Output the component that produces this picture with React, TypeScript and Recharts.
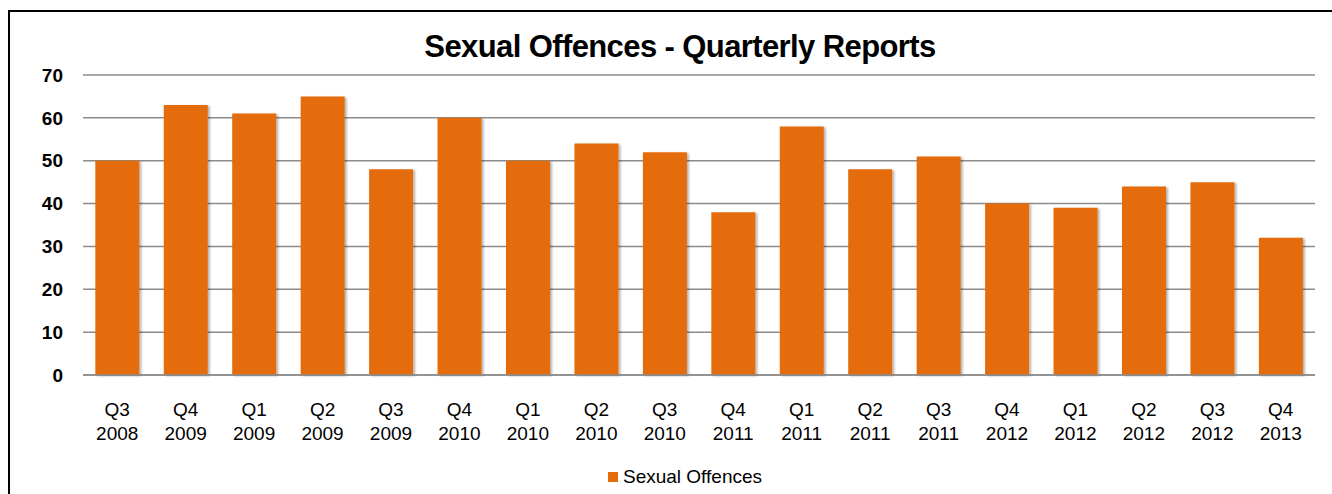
import React from "react";
import { BarChart, Bar, XAxis, YAxis, CartesianGrid } from "recharts";

const quarters = ["Q3", "Q4", "Q1", "Q2", "Q3", "Q4", "Q1", "Q2", "Q3", "Q4", "Q1", "Q2", "Q3", "Q4", "Q1", "Q2", "Q3", "Q4"];
const years = ["2008", "2009", "2009", "2009", "2009", "2010", "2010", "2010", "2010", "2011", "2011", "2011", "2011", "2012", "2012", "2012", "2012", "2013"];
const offences = [50, 63, 61, 65, 48, 60, 50, 54, 52, 38, 58, 48, 51, 40, 39, 44, 45, 32];
const yTicks = [0, 10, 20, 30, 40, 50, 60, 70];

const data = quarters.map((q, i) => ({ name: q + " " + years[i], quarter: q, year: years[i], value: offences[i] }));

const FONT = "'Liberation Sans', Arial, sans-serif";
const ORANGE = "#E46C0A";

function QuarterTick(props: any) {
  const { x, y, payload } = props;
  const row = data[payload.index] || data.find((d) => d.name === payload.value);
  return (
    <text x={x} y={y} textAnchor="middle" fontFamily={FONT} fontSize={19} fill="#000">
      <tspan x={x} dy={39}>{row ? row.quarter : ""}</tspan>
      <tspan x={x} dy={24}>{row ? row.year : ""}</tspan>
    </text>
  );
}

export default function App() {
  return (
    <div style={{ position: "absolute", left: 0, top: 0, width: 1332, height: 494, background: "#fff", overflow: "hidden" }}>
      <div style={{ position: "absolute", left: 8, top: 10, width: 1340, height: 500, border: "2px solid #000", boxSizing: "border-box" }} />
      <div
        style={{
          position: "absolute",
          left: 0,
          width: 1360,
          top: 29,
          textAlign: "center",
          fontFamily: FONT,
          fontWeight: "bold",
          fontSize: 31,
          letterSpacing: -0.6,
          color: "#000",
        }}
      >
        Sexual Offences - Quarterly Reports
      </div>
      <div style={{ position: "absolute", left: 0, top: 0 }}>
        <BarChart width={1332} height={494} data={data} margin={{ top: 75, right: 17, bottom: 0, left: 0 }} barCategoryGap="18%">
          <defs>
            <filter id="barShadow" x="-10%" y="-10%" width="130%" height="120%">
              <feDropShadow dx="2" dy="1" stdDeviation="1.2" floodColor="#000" floodOpacity="0.3" />
            </filter>
          </defs>
          <CartesianGrid vertical={false} stroke="#8c8c8c" strokeWidth={1.5} />
          <XAxis
            dataKey="name"
            interval={0}
            tick={<QuarterTick />}
            tickLine={false}
            tickSize={0}
            axisLine={{ stroke: "#8c8c8c", strokeWidth: 1.5 }}
            height={119}
          />
          <YAxis
            domain={[0, 70]}
            ticks={yTicks}
            interval={0}
            width={83}
            tickLine={false}
            tickSize={0}
            tickMargin={20}
            axisLine={false}
            tick={{ fontFamily: FONT, fontSize: 19, fontWeight: "bold", fill: "#000" }}
          />
          <Bar dataKey="value" name="Sexual Offences" fill={ORANGE} isAnimationActive={false} filter="url(#barShadow)" />
        </BarChart>
      </div>
      <div
        style={{
          position: "absolute",
          left: 0,
          width: 1370,
          top: 466,
          textAlign: "center",
          fontFamily: FONT,
          fontSize: 19,
          color: "#000",
        }}
      >
        <span style={{ display: "inline-block", width: 10, height: 10, background: ORANGE, marginRight: 5, verticalAlign: "1px" }} />
        Sexual Offences
      </div>
    </div>
  );
}
